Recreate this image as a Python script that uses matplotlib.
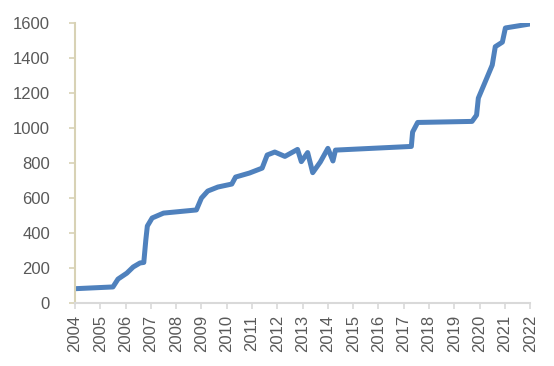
import matplotlib.pyplot as plt

# values (decimal year, level)
years = [
    2004.0, 2005.5, 2005.7, 2006.05, 2006.3, 2006.57, 2006.72, 2006.8, 2006.86,
    2007.05, 2007.5, 2008.8, 2009.0, 2009.25, 2009.65, 2010.2, 2010.35, 2010.9,
    2011.4, 2011.6, 2011.9, 2012.3, 2012.8, 2012.95, 2013.2, 2013.4, 2013.7,
    2014.0, 2014.2, 2014.3, 2017.3, 2017.35, 2017.55, 2019.7, 2019.88, 2019.95,
    2020.3, 2020.5, 2020.62, 2020.9, 2021.02, 2022.0,
]
values = [
    82, 92, 137, 171, 206, 229, 232, 360, 440,
    486, 514, 532, 600, 640, 663, 680, 720, 743,
    771, 846, 863, 838, 878, 808, 860, 745, 806,
    884, 812, 874, 895, 977, 1032, 1038, 1074, 1171,
    1291, 1360, 1465, 1491, 1572, 1595,
]
year_ticks = list(range(2004, 2023))
value_ticks = list(range(0, 1601, 200))

fig = plt.figure(figsize=(5.54, 3.66), dpi=100)
ax = fig.add_axes([0.1354, 0.172, 0.8216, 0.765])

ax.plot(years, values, color="#4f81bd", linewidth=3.6, solid_joinstyle="round",
        solid_capstyle="round")

ax.set_xlim(2004, 2022)
ax.set_ylim(0, 1600)
ax.set_xticks(year_ticks)
ax.set_xticklabels([str(y) for y in year_ticks], rotation=90)
ax.set_yticks(value_ticks)

for side in ("top", "right"):
    ax.spines[side].set_visible(False)
ax.spines["left"].set_color("#d8d2b5")
ax.spines["left"].set_linewidth(1.5)
ax.spines["bottom"].set_color("#d9d9d9")
ax.spines["bottom"].set_linewidth(1.5)

ax.tick_params(axis="y", colors="#d8d2b5", labelcolor="#595959", length=4,
               width=1.2, pad=14, labelsize=12)
ax.tick_params(axis="x", colors="#d9d9d9", labelcolor="#595959", length=4,
               width=1.2, pad=4.5, labelsize=12)
for lbl in ax.get_xticklabels() + ax.get_yticklabels():
    lbl.set_fontfamily("Liberation Sans")

fig.savefig("out.png", dpi=100)
plt.close(fig)
